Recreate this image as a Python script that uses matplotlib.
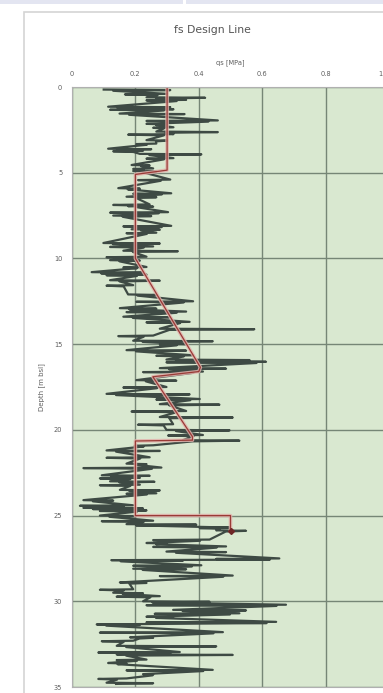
import matplotlib.pyplot as plt
from matplotlib.patches import Rectangle
from matplotlib.transforms import ScaledTranslation
import numpy as np

# measured profile: depth [m], min and max qs [MPa] of each zig-zag stroke
depth = [0.15, 0.4, 0.6, 0.75, 1.15, 1.3, 1.55, 1.95, 2.15, 2.35, 2.6, 2.75, 3.1, 3.3,
         3.6, 3.72, 3.9, 4.15, 4.55, 4.75, 4.9, 5.4, 5.9, 6.2, 6.4, 6.85, 6.95, 7.3, 7.5,
         8.1, 8.3, 8.5, 9.1, 9.3, 9.55, 9.9, 10.1, 10.5, 10.8, 10.95, 11.27, 11.56, 12.1,
         12.5, 12.9, 13.1, 13.4, 13.7, 14.1, 14.5, 14.8, 15.0, 15.35, 15.65, 15.9, 16.03,
         16.4, 16.6, 17.1, 17.5, 17.9, 18.2, 18.5, 18.9, 19.25, 19.67, 20.0, 20.3, 20.6,
         20.9, 21.2, 21.6, 21.97, 22.2, 22.65, 22.8, 23.0, 23.2, 23.5, 23.7, 24.1, 24.4,
         24.55, 24.7, 25.0, 25.3, 25.5, 25.7, 25.86, 26.4, 26.6, 26.8, 27.1, 27.5, 27.6,
         27.9, 28.1, 28.5, 28.9, 29.3, 29.5, 29.7, 30.0, 30.2, 30.5, 30.7, 30.9, 31.2,
         31.35, 31.8, 32.1, 32.3, 32.6, 32.96, 33.1, 33.4, 33.6, 34.0, 34.25, 34.5, 34.75]
qs_lo = [0.10, 0.167, 0.235, 0.235, 0.114, 0.12, 0.15, 0.235, 0.235, 0.256, 0.266, 0.177,
         0.235, 0.203, 0.114, 0.13, 0.214, 0.235, 0.188, 0.193, 0.193, 0.208, 0.146, 0.193,
         0.172, 0.13, 0.177, 0.12, 0.13, 0.162, 0.188, 0.172, 0.099, 0.12, 0.162, 0.109,
         0.12, 0.162, 0.062, 0.109, 0.12, 0.109, 0.177, 0.203, 0.151, 0.172, 0.162, 0.235,
         0.277, 0.146, 0.193, 0.277, 0.172, 0.266, 0.298, 0.298, 0.277, 0.224, 0.203, 0.162,
         0.109, 0.266, 0.277, 0.188, 0.277, 0.208, 0.298, 0.303, 0.35, 0.198, 0.109, 0.109,
         0.172, 0.036, 0.094, 0.088, 0.12, 0.088, 0.151, 0.172, 0.036, 0.025, 0.036, 0.088,
         0.088, 0.094, 0.172, 0.403, 0.455, 0.256, 0.235, 0.256, 0.298, 0.455, 0.124, 0.193,
         0.193, 0.277, 0.151, 0.088, 0.13, 0.141, 0.224, 0.235, 0.319, 0.261, 0.235, 0.235,
         0.078, 0.088, 0.183, 0.094, 0.141, 0.083, 0.141, 0.141, 0.114, 0.172, 0.224, 0.083,
         0.109]
qs_hi = [0.31, 0.30, 0.42, 0.36, 0.31, 0.32, 0.355, 0.46, 0.30, 0.32, 0.46, 0.32, 0.30,
         0.266, 0.25, 0.224, 0.408, 0.32, 0.245, 0.256, 0.266, 0.31, 0.214, 0.313, 0.266,
         0.245, 0.256, 0.303, 0.25, 0.313, 0.277, 0.266, 0.277, 0.256, 0.334, 0.235, 0.214,
         0.235, 0.224, 0.235, 0.277, 0.193, 0.266, 0.382, 0.266, 0.36, 0.308, 0.371, 0.575,
         0.256, 0.444, 0.36, 0.36, 0.382, 0.56, 0.612, 0.486, 0.413, 0.329, 0.298, 0.371,
         0.403, 0.465, 0.36, 0.507, 0.319, 0.497, 0.413, 0.528, 0.256, 0.277, 0.245, 0.235,
         0.282, 0.245, 0.214, 0.26, 0.214, 0.277, 0.266, 0.13, 0.193, 0.224, 0.235, 0.203,
         0.256, 0.392, 0.497, 0.549, 0.434, 0.298, 0.486, 0.486, 0.654, 0.35, 0.408, 0.36,
         0.507, 0.235, 0.193, 0.224, 0.277, 0.434, 0.675, 0.549, 0.528, 0.319, 0.644, 0.214,
         0.476, 0.256, 0.193, 0.455, 0.34, 0.507, 0.235, 0.172, 0.444, 0.256, 0.172, 0.256]

# design line vertices
design_qs = [0.30, 0.30, 0.20, 0.20, 0.405, 0.40, 0.255, 0.38, 0.38, 0.20, 0.20, 0.50, 0.50]
design_depth = [0.0, 4.85, 5.1, 10.0, 16.35, 16.6, 16.9, 20.4, 20.6, 20.65, 25.0, 25.0, 25.9]

# build the zig-zag path through the strokes (each stroke drawn out and back)
px, py = [], []
for i, d in enumerate(depth):
    if i % 2 == 0:
        px += [qs_lo[i], qs_hi[i], qs_lo[i] + 0.03]
    else:
        px += [qs_hi[i], qs_lo[i], qs_hi[i] - 0.03]
    py += [d, d + 0.03, d + 0.07]

fig = plt.figure(figsize=(3.83, 6.93), dpi=100)
fig.patch.set_facecolor('white')

# screenshot frame: top strip and card border
fig.patches.append(Rectangle((0, 1 - 4/693), 183/383, 4/693, transform=fig.transFigure,
                             facecolor='#e3e5f1', edgecolor='none', zorder=-5))
fig.patches.append(Rectangle((186/383, 1 - 4/693), 1, 4/693, transform=fig.transFigure,
                             facecolor='#e3e5f1', edgecolor='none', zorder=-5))
fig.patches.append(Rectangle((24/383, -0.1), 1.2, 1.1 - 12/693, transform=fig.transFigure,
                             facecolor='white', edgecolor='#d4d4d4', linewidth=1.2, zorder=-5))

ax = fig.add_axes([72/383, 6/693, 317/383, 600/693])
ax.set_facecolor('#d9e8d0')
ax.set_xlim(0, 1)
ax.set_ylim(35, 0)
ax.xaxis.tick_top()
ax.xaxis.set_label_position('top')
ax.set_xticks(np.arange(0, 1.01, 0.2))
ax.set_xticklabels(['0', '0.2', '0.4', '0.6', '0.8', '1'])
ax.set_yticks(np.arange(0, 36, 5))
ax.tick_params(length=0, labelsize=4.8, colors='#5e5e5e', pad=7)
ax.grid(True, color='#768676', linewidth=1.0)
ax.set_axisbelow(True)
for s in ax.spines.values():
    s.set_color('#b0b0b0')

# keep the last tick label inside the picture
last = ax.get_xticklabels()[-1]
last.set_transform(last.get_transform() + ScaledTranslation(-6/72, 0, fig.dpi_scale_trans))

ax.plot(px, py, color='#3e4a44', linewidth=1.6, solid_joinstyle='round')
ax.plot(design_qs, design_depth, color='#e2b2ac', linewidth=2.6, alpha=0.85)
ax.plot(design_qs, design_depth, color='#9a3a36', linewidth=0.9)
ax.plot(design_qs[-1], design_depth[-1], marker='D', markersize=3, color='#6e2626')

ax.set_xlabel('qs [MPa]', fontsize=4.8, color='#5e5e5e', labelpad=5)
ax.set_ylabel('Depth [m bsl]', fontsize=5, color='#5e5e5e', labelpad=6)

fig.text(212/383, 1 - 30/693, 'fs Design Line', fontsize=7.8, color='#555555',
         ha='center', va='center')

fig.savefig('out.png', dpi=100)
